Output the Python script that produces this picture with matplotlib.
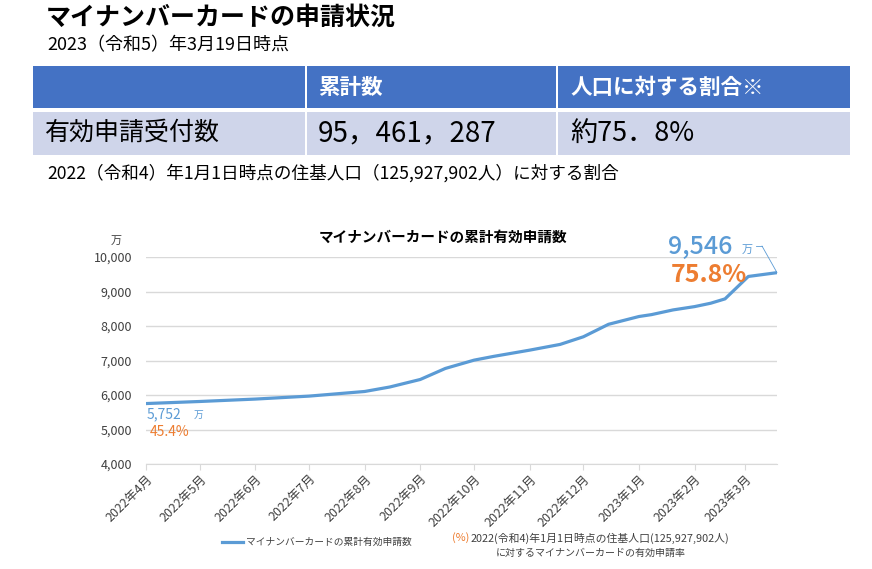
import numpy as np
import pandas as pd
import matplotlib
matplotlib.use('Agg')
import matplotlib.pyplot as plt
from matplotlib.patches import Rectangle
from matplotlib.lines import Line2D
from matplotlib.ticker import FuncFormatter

plt.rcParams['font.family'] = ['Noto Sans CJK JP', 'DejaVu Sans']

# 累計有効申請数 (万件)
dates = ['2022-04-01', '2022-05-01', '2022-06-01', '2022-07-01', '2022-08-01',
         '2022-08-15', '2022-09-01', '2022-09-15', '2022-10-01', '2022-10-12',
         '2022-11-01', '2022-11-18', '2022-12-01', '2022-12-15', '2023-01-01',
         '2023-01-08', '2023-01-20', '2023-02-01', '2023-02-10', '2023-02-18',
         '2023-03-03', '2023-03-19']
counts = [5752, 5812, 5882, 5968, 6102, 6232, 6450, 6770, 7010, 7120,
          7300, 7466, 7688, 8049, 8275, 8330, 8466, 8562, 8660, 8786,
          9436, 9546]

table_header = ['', '累計数', '人口に対する割合※']
table_row = ['有効申請受付数', '95，461，287', '約75．8%']

first_label = ('5,752', '45.4%')
last_label = ('9,546', '75.8%')

BLUE = '#5B9BD5'
ORANGE = '#ED7D31'
GREY = '#404040'
W, H = 872, 569


def fx(x):
    return x / W


def fy(y):
    return 1 - y / H


fig = plt.figure(figsize=(8.72, 5.69), dpi=100)

# title block
fig.text(fx(46), fy(18), 'マイナンバーカードの申請状況', fontsize=18, fontweight='bold',
         va='center', ha='left')
fig.text(fx(47), fy(45), '2023（令和5）年3月19日時点', fontsize=13, va='center', ha='left')

# table
col_x = [33, 306, 557, 851]
rows = [(66, 108, '#4472C4'), (112, 155, '#CFD5EA')]
for top, bot, col in rows:
    for i in range(3):
        x0 = col_x[i] + (1 if i > 0 else 0)
        x1 = col_x[i + 1] - 1
        fig.patches.append(Rectangle((fx(x0), fy(bot)), fx(x1 - x0), (bot - top) / H,
                                     transform=fig.transFigure, facecolor=col,
                                     edgecolor='none', zorder=0))
text_x = [45, 318, 570]
for i, t in enumerate(table_header):
    fig.text(fx(text_x[i]), fy(87), t, fontsize=15.5, fontweight='bold', color='white',
             va='center', ha='left')
fig.text(fx(text_x[0]), fy(133), table_row[0], fontsize=18, va='center', ha='left')
fig.text(fx(text_x[1]), fy(133), table_row[1], fontsize=20, va='center', ha='left')
fig.text(fx(text_x[2]), fy(133), table_row[2], fontsize=19.5, va='center', ha='left')

fig.text(fx(47), fy(173), '2022（令和4）年1月1日時点の住基人口（125,927,902人）に対する割合',
         fontsize=12.7, va='center', ha='left')

# chart
ax = fig.add_axes([fx(146), fy(464), fx(777 - 146), (464 - 257) / H])
x = pd.to_datetime(dates)
ax.plot(x, counts, color=BLUE, lw=2.3, solid_capstyle='round', zorder=3)

ax.set_ylim(4000, 10000)
ax.set_yticks(np.arange(4000, 10001, 1000))
ax.yaxis.set_major_formatter(FuncFormatter(lambda v, p: f'{int(v):,}'))
ax.set_xlim(pd.Timestamp('2022-04-01'), pd.Timestamp('2023-03-19'))
months = pd.date_range('2022-04-01', '2023-03-01', freq='MS')
ax.set_xticks(months)
ax.set_xticklabels([f'{d.year}年{d.month}月' for d in months], rotation=45, ha='right',
                   rotation_mode='anchor', fontsize=9, color=GREY)
ax.grid(axis='y', color='#D9D9D9', lw=1)
ax.set_axisbelow(True)
for s in ['top', 'right', 'left']:
    ax.spines[s].set_visible(False)
ax.spines['bottom'].set_color('#D9D9D9')
ax.tick_params(axis='y', length=0, labelsize=9, labelcolor=GREY, pad=10)
ax.tick_params(axis='x', length=4, color='#D9D9D9', pad=2)

fig.text(fx(443), fy(237), 'マイナンバーカードの累計有効申請数', fontsize=10.5, fontweight='bold',
         ha='center', va='center')
fig.text(fx(116), fy(241), '万', fontsize=8, ha='center', va='center', color=GREY)

# start labels
fig.text(fx(147), fy(414), first_label[0], fontsize=10, color=BLUE, ha='left', va='center')
fig.text(fx(194), fy(415), '万', fontsize=7, color=BLUE, ha='left', va='center')
fig.text(fx(150), fy(432), first_label[1], fontsize=10, color=ORANGE, ha='left', va='center')

# end labels
fig.text(fx(668), fy(247), last_label[0], fontsize=18, color=BLUE, fontweight='medium',
         ha='left', va='center')
fig.text(fx(742), fy(250), '万', fontsize=8, color=BLUE, ha='left', va='center')
fig.text(fx(671), fy(275), last_label[1], fontsize=18, color=ORANGE, fontweight='bold',
         ha='left', va='center')
fig.lines.append(Line2D([fx(756), fx(762)], [fy(246), fy(246)], transform=fig.transFigure,
                        color=BLUE, lw=0.6))
ax.annotate('', xy=(x[-1], counts[-1]), xytext=(fx(762), fy(246)),
            textcoords='figure fraction',
            arrowprops=dict(arrowstyle='-', color=BLUE, lw=0.6, shrinkA=0, shrinkB=0))

# legend
fig.lines.append(Line2D([fx(222), fx(243)], [fy(542), fy(542)], transform=fig.transFigure,
                        color=BLUE, lw=2.3))
fig.text(fx(246), fy(542), 'マイナンバーカードの累計有効申請数', fontsize=7, ha='left', va='center',
         color=GREY)
pct = fig.text(fx(452), fy(538), '(%)', fontsize=7.8, ha='left', va='center', color=ORANGE)
ax.annotate('2022(令和4)年1月1日時点の住基人口(125,927,902人)', xy=(1, 0.5), xycoords=pct,
            xytext=(0.5, 0), textcoords='offset points', fontsize=7.8, ha='left',
            va='center', color=GREY, annotation_clip=False)
fig.text(fx(591), fy(553), 'に対するマイナンバーカードの有効申請率', fontsize=7.2, ha='center',
         va='center', color=GREY)

fig.savefig('out.png', dpi=100)
